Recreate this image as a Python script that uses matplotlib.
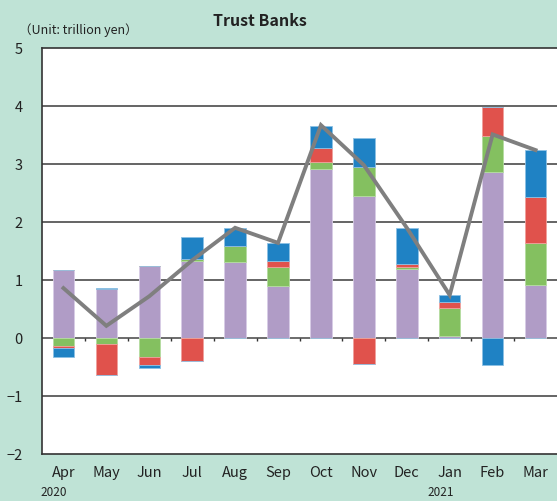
# Trust Banks - monthly flows by component, stacked bars with a total line
import matplotlib.pyplot as plt
import matplotlib.transforms as mtransforms
import numpy as np

months = ["Apr", "May", "Jun", "Jul", "Aug", "Sep", "Oct", "Nov", "Dec", "Jan", "Feb", "Mar"]
years = {0: "2020", 9: "2021"}

# components (trillion yen)
purple = [1.18, 0.84, 1.25, 1.32, 1.31, 0.90, 2.91, 2.45, 1.19, 0.04, 2.87, 0.91]
green  = [-0.13, -0.10, -0.33, 0.05, 0.28, 0.32, 0.12, 0.50, 0.03, 0.48, 0.62, 0.73]
red    = [-0.04, -0.53, -0.14, -0.40, 0.00, 0.10, 0.25, -0.45, 0.05, 0.10, 0.49, 0.79]
blue   = [-0.15, 0.02, -0.05, 0.37, 0.30, 0.32, 0.38, 0.50, 0.63, 0.12, -0.47, 0.82]
total  = [0.86, 0.21, 0.72, 1.34, 1.90, 1.64, 3.67, 2.98, 1.90, 0.74, 3.51, 3.24]

BG = "#bfe3d6"
COLOURS = ["#b09cc6", "#84c060", "#e0524c", "#1f82c4"]
EDGES = ["#d8cce6", "#b4dca0", "#f0a09c", "#8cc0e4"]
LINE_COLOUR = "#7f7f7f"
TEXT = "#222222"

plt.rcParams["font.family"] = ["Noto Sans CJK JP", "DejaVu Sans"]

fig = plt.figure(figsize=(5.57, 5.01), dpi=100, facecolor=BG)
ax = fig.add_axes([42 / 557, 47 / 501, 1 - 42 / 557, 406 / 501])
ax.set_facecolor("white")

x = np.arange(len(months))
pos_base = np.zeros(len(months))
neg_base = np.zeros(len(months))
for series, col, ec in zip([purple, green, red, blue], COLOURS, EDGES):
    vals = np.array(series)
    pos = np.where(vals > 0, vals, 0)
    neg = np.where(vals < 0, vals, 0)
    ax.bar(x, pos, width=0.5, bottom=pos_base, color=col, edgecolor=ec, linewidth=0.6, zorder=2)
    ax.bar(x, neg, width=0.5, bottom=neg_base, color=col, edgecolor=ec, linewidth=0.6, zorder=2)
    pos_base += pos
    neg_base += neg

ax.plot(x, total, color=LINE_COLOUR, lw=2.8, zorder=4, solid_joinstyle="miter")

ax.set_xlim(-0.5, len(months) - 0.5)
ax.set_ylim(-2, 5)
ax.set_yticks(range(-2, 6))
ax.set_yticklabels([str(v).replace("-", "\u2212") for v in range(-2, 6)])
for v in range(-1, 5):
    ax.axhline(v, color="#3a3a3a" if v != 0 else "#444444", lw=1.1, zorder=1)

# small ticks on the zero line between months
ax.vlines(x[:-1] + 0.5, -0.06, 0, color="#333333", lw=1, zorder=3)

ax.set_xticks([])
ax.tick_params(axis="y", length=0, pad=14, labelsize=10.5, colors=TEXT)
for side in ["left", "top", "bottom"]:
    ax.spines[side].set_color("#333333")
    ax.spines[side].set_linewidth(1.2)
ax.spines["right"].set_visible(False)

trans = mtransforms.blended_transform_factory(ax.transData, ax.transAxes)
for i, m in enumerate(months):
    ax.text(i, -0.047, m, transform=trans, ha="center", va="center", fontsize=10.5, color=TEXT)
# year labels sit a little left of the month centre
for i, yr in years.items():
    ax.text(i - 0.22, -0.096, yr, transform=trans, ha="center", va="center", fontsize=8.5, color=TEXT)

fig.text(0.467, 0.958, "Trust Banks", ha="center", va="center", fontsize=11.5, fontweight="bold", color=TEXT)
fig.text(0.035, 0.94, "\uff08Unit: trillion yen\uff09", ha="left", va="center", fontsize=9, color=TEXT)

fig.savefig("out.png", dpi=100, facecolor=BG)
